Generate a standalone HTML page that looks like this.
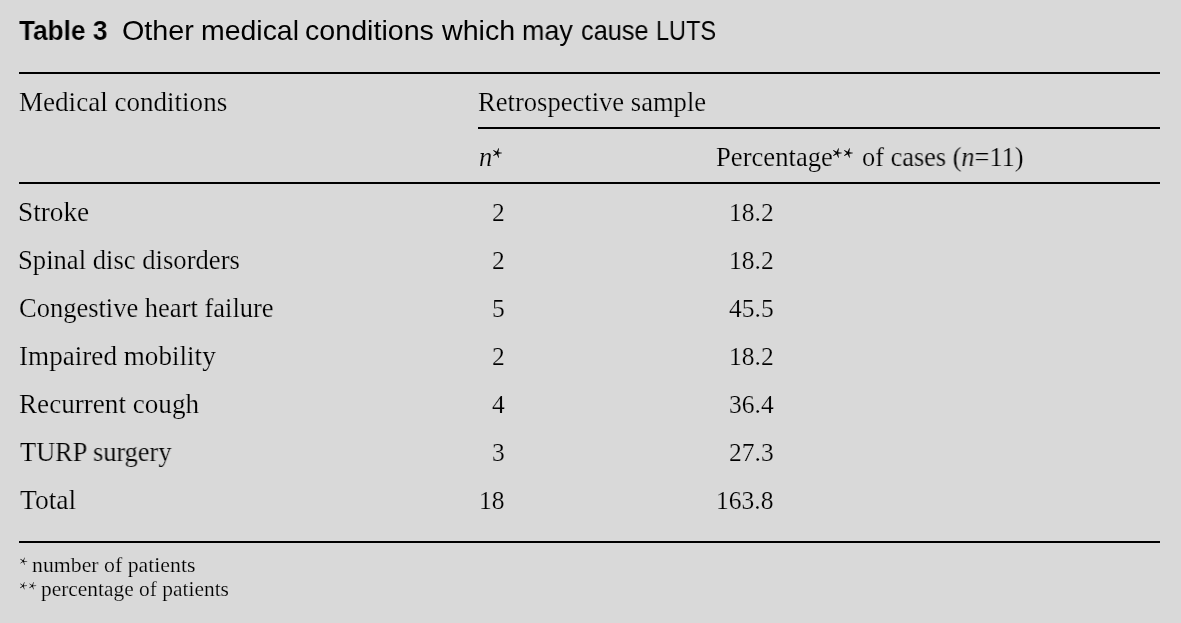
<!DOCTYPE html>
<html><head><meta charset="utf-8"><title>Table 3</title>
<style>
html,body{margin:0;padding:0;}
body{width:1181px;height:623px;background:#d9d9d9;position:relative;overflow:hidden;color:#000;font-family:'Liberation Serif', serif;}
.t{position:absolute;white-space:nowrap;line-height:1;will-change:transform;transform-origin:0 0;-webkit-text-stroke:0.2px #d9d9d9;}.h{-webkit-text-stroke:0;}
.l{position:absolute;background:#000;}
.s{position:absolute;left:0;top:0;}
</style></head><body>
<div class="t" style="left:19.3px;top:16.62px;font-size:27.5px;font-family:'Liberation Sans', sans-serif;font-weight:bold;-webkit-text-stroke:0.15px #d9d9d9;transform:scaleX(0.9533);">Table 3</div>
<div class="t" style="left:121.96px;top:16.62px;font-size:27.5px;font-family:'Liberation Sans', sans-serif;-webkit-text-stroke:0;transform:scaleX(1.0448);">Other</div>
<div class="t" style="left:200.63px;top:16.62px;font-size:27.5px;font-family:'Liberation Sans', sans-serif;-webkit-text-stroke:0;transform:scaleX(1.0341);">medical</div>
<div class="t" style="left:304.86px;top:16.62px;font-size:27.5px;font-family:'Liberation Sans', sans-serif;-webkit-text-stroke:0;transform:scaleX(1.041);">conditions</div>
<div class="t" style="left:441.8px;top:16.62px;font-size:27.5px;font-family:'Liberation Sans', sans-serif;-webkit-text-stroke:0;transform:scaleX(1.0406);">which</div>
<div class="t" style="left:522.45px;top:16.62px;font-size:27.5px;font-family:'Liberation Sans', sans-serif;-webkit-text-stroke:0;transform:scaleX(0.976);">may</div>
<div class="t" style="left:581.08px;top:16.62px;font-size:27.5px;font-family:'Liberation Sans', sans-serif;-webkit-text-stroke:0;transform:scaleX(0.9211);">cause</div>
<div class="t" style="left:656.49px;top:16.62px;font-size:27.5px;font-family:'Liberation Sans', sans-serif;-webkit-text-stroke:0;transform:scaleX(0.8537);">LUTS</div>
<div class="t" style="left:18.68px;top:89.0px;font-size:26.5px;font-family:'Liberation Serif', serif;transform:scaleX(1.0213);">Medical conditions</div>
<div class="t" style="left:478.0px;top:89.0px;font-size:26.5px;font-family:'Liberation Serif', serif;transform:scaleX(1.0031);">Retrospective sample</div>
<div class="t" style="left:479.0px;top:144.0px;font-size:26.5px;font-family:'Liberation Serif', serif;"><i>n</i></div>
<div class="t" style="left:715.79px;top:144.0px;font-size:26.5px;font-family:'Liberation Serif', serif;transform:scaleX(1.0061);">Percentage</div>
<div class="t" style="left:862.01px;top:144.0px;font-size:26.5px;font-family:'Liberation Serif', serif;transform:scaleX(0.9938);">of cases (<i>n</i>=11)</div>
<div class="t" style="left:17.84px;top:199.0px;font-size:26.5px;font-family:'Liberation Serif', serif;transform:scaleX(1.0288);">Stroke</div>
<div class="t" style="left:17.89px;top:247.0px;font-size:26.5px;font-family:'Liberation Serif', serif;transform:scaleX(1.005);">Spinal disc disorders</div>
<div class="t" style="left:18.9px;top:295.0px;font-size:26.5px;font-family:'Liberation Serif', serif;">Congestive heart failure</div>
<div class="t" style="left:18.88px;top:343.0px;font-size:26.5px;font-family:'Liberation Serif', serif;transform:scaleX(1.0241);">Impaired mobility</div>
<div class="t" style="left:18.88px;top:391.0px;font-size:26.5px;font-family:'Liberation Serif', serif;transform:scaleX(1.0236);">Recurrent cough</div>
<div class="t" style="left:19.9px;top:439.0px;font-size:26.5px;font-family:'Liberation Serif', serif;transform:scaleX(0.9941);">TURP surgery</div>
<div class="t" style="left:19.9px;top:487.0px;font-size:26.5px;font-family:'Liberation Serif', serif;transform:scaleX(1.0396);">Total</div>
<div class="t" style="left:32.14px;top:554.99px;font-size:20.5px;font-family:'Liberation Serif', serif;transform:scaleX(1.0632);">number of patients</div>
<div class="t" style="left:41.26px;top:578.99px;font-size:20.5px;font-family:'Liberation Serif', serif;transform:scaleX(1.0449);">percentage of patients</div>
<div class="t" style="right:676.40px;top:199.84px;font-size:25.5px;font-family:'Liberation Serif', serif;">2</div>
<div class="t" style="right:407.70px;top:199.84px;font-size:25.5px;font-family:'Liberation Serif', serif;">18.2</div>
<div class="t" style="right:676.40px;top:247.84px;font-size:25.5px;font-family:'Liberation Serif', serif;">2</div>
<div class="t" style="right:407.70px;top:247.84px;font-size:25.5px;font-family:'Liberation Serif', serif;">18.2</div>
<div class="t" style="right:676.40px;top:295.83px;font-size:25.5px;font-family:'Liberation Serif', serif;">5</div>
<div class="t" style="right:407.70px;top:295.83px;font-size:25.5px;font-family:'Liberation Serif', serif;">45.5</div>
<div class="t" style="right:676.40px;top:343.83px;font-size:25.5px;font-family:'Liberation Serif', serif;">2</div>
<div class="t" style="right:407.70px;top:343.83px;font-size:25.5px;font-family:'Liberation Serif', serif;">18.2</div>
<div class="t" style="right:676.40px;top:391.83px;font-size:25.5px;font-family:'Liberation Serif', serif;">4</div>
<div class="t" style="right:407.70px;top:391.83px;font-size:25.5px;font-family:'Liberation Serif', serif;">36.4</div>
<div class="t" style="right:676.40px;top:439.83px;font-size:25.5px;font-family:'Liberation Serif', serif;">3</div>
<div class="t" style="right:407.70px;top:439.83px;font-size:25.5px;font-family:'Liberation Serif', serif;">27.3</div>
<div class="t" style="right:676.40px;top:487.83px;font-size:25.5px;font-family:'Liberation Serif', serif;">18</div>
<div class="t" style="right:407.70px;top:487.83px;font-size:25.5px;font-family:'Liberation Serif', serif;">163.8</div>
<div class="l" style="left:19px;top:72px;width:1141px;height:2px"></div>
<div class="l" style="left:478px;top:127px;width:682px;height:2px"></div>
<div class="l" style="left:19px;top:182px;width:1141px;height:2px"></div>
<div class="l" style="left:19px;top:541px;width:1141px;height:2px"></div>
<svg class="s" width="1181" height="623" viewBox="0 0 1181 623"><path d="M497.20 153.95L502.00 153.35L502.00 152.65L497.20 152.05ZM496.30 153.29L498.35 157.67L499.02 157.46L498.10 152.71ZM496.64 152.23L493.11 155.54L493.52 156.10L497.76 153.77ZM497.76 152.23L493.52 149.90L493.11 150.46L496.64 153.77ZM498.10 153.29L499.02 148.54L498.35 148.33L496.30 152.71ZM837.10 153.95L841.90 153.35L841.90 152.65L837.10 152.05ZM836.20 153.29L838.25 157.67L838.92 157.46L838.00 152.71ZM836.54 152.23L833.01 155.54L833.42 156.10L837.66 153.77ZM837.66 152.23L833.42 149.90L833.01 150.46L836.54 153.77ZM838.00 153.29L838.92 148.54L838.25 148.33L836.20 152.71ZM848.10 153.95L852.90 153.35L852.90 152.65L848.10 152.05ZM847.20 153.29L849.25 157.67L849.92 157.46L849.00 152.71ZM847.54 152.23L844.01 155.54L844.42 156.10L848.66 153.77ZM848.66 152.23L844.42 149.90L844.01 150.46L847.54 153.77ZM849.00 153.29L849.92 148.54L849.25 148.33L847.20 152.71ZM23.40 561.70L27.20 561.40L27.20 561.00L23.40 560.70ZM22.92 561.35L24.38 564.88L24.76 564.75L23.88 561.05ZM23.11 560.80L20.21 563.27L20.44 563.60L23.69 561.60ZM23.69 560.80L20.44 558.80L20.21 559.13L23.11 561.60ZM23.88 561.35L24.76 557.65L24.38 557.52L22.92 561.05ZM23.20 586.30L27.00 586.00L27.00 585.60L23.20 585.30ZM22.72 585.95L24.18 589.48L24.56 589.35L23.68 585.65ZM22.91 585.40L20.01 587.87L20.24 588.20L23.49 586.20ZM23.49 585.40L20.24 583.40L20.01 583.73L22.91 586.20ZM23.68 585.95L24.56 582.25L24.18 582.12L22.72 585.65ZM32.40 586.30L36.20 586.00L36.20 585.60L32.40 585.30ZM31.92 585.95L33.38 589.48L33.76 589.35L32.88 585.65ZM32.11 585.40L29.21 587.87L29.44 588.20L32.69 586.20ZM32.69 585.40L29.44 583.40L29.21 583.73L32.11 586.20ZM32.88 585.95L33.76 582.25L33.38 582.12L31.92 585.65Z" fill="#000"/></svg>
</body></html>
